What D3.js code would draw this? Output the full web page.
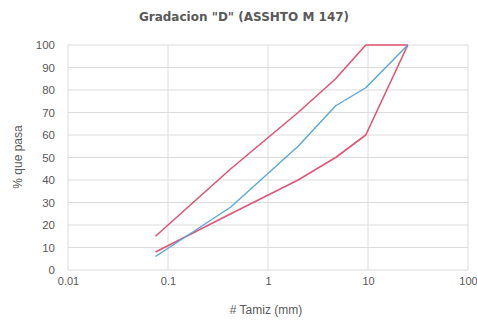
<!DOCTYPE html>
<html><head><meta charset="utf-8">
<script src="https://cdn.jsdelivr.net/npm/d3@7"></script>
<style>body{margin:0;background:#fff}svg{display:block}</style>
</head><body><svg id="c" width="477" height="327"></svg>
<script>
const sieves = [0.075, 0.425, 2, 4.75, 9.5, 25];
const upperLimit = [15, 45, 70, 85, 100, 100];
const lowerLimit = [8, 25, 40, 50, 60, 100];
const sample = [6, 28, 55, 73, 81, 100];
const xTicks = [0.01, 0.1, 1, 10, 100];
const yTicks = [0,10,20,30,40,50,60,70,80,90,100];

(function(){
const svg = d3.select("#c");
const pL = 68, pR = 468, pT = 45, pB = 270;
const x = d3.scaleLog().domain([0.01, 100]).range([pL, pR]);
const y = d3.scaleLinear().domain([0, 100]).range([pB, pT]);
const txt = "#595959";

svg.append("g").selectAll("line").data(yTicks).join("line")
  .attr("x1", pL).attr("x2", pR).attr("y1", d => y(d)).attr("y2", d => y(d))
  .attr("stroke", "#dcdcdc").attr("stroke-width", 1);
svg.append("g").selectAll("line").data(xTicks).join("line")
  .attr("x1", d => x(d)).attr("x2", d => x(d)).attr("y1", pT).attr("y2", pB)
  .attr("stroke", "#dcdcdc").attr("stroke-width", 1);

const yAxis = svg.append("g").attr("transform", `translate(${pL},0)`)
  .call(d3.axisLeft(y).tickValues(yTicks).tickSize(0).tickPadding(13));
yAxis.select(".domain").remove();
yAxis.selectAll("text").attr("fill", txt).style("font-family", "Liberation Sans, Arial, sans-serif").style("font-size", "11.5px");

const xAxis = svg.append("g").attr("transform", `translate(0,${pB})`)
  .call(d3.axisBottom(x).tickValues(xTicks).tickFormat(d => String(d)).tickSize(0).tickPadding(7));
xAxis.select(".domain").remove();
xAxis.selectAll("text").attr("fill", txt).style("font-family", "Liberation Sans, Arial, sans-serif").style("font-size", "11px");

const line = d3.line().x(d => x(d[0])).y(d => y(d[1]));
const series = [
  {vals: upperLimit, color: "#e05576", w: 1.6},
  {vals: lowerLimit, color: "#e05576", w: 1.6},
  {vals: sample, color: "#5aa6d6", w: 1.4}
];
series.forEach(s => {
  svg.append("path").datum(sieves.map((v, i) => [v, s.vals[i]]))
    .attr("d", line).attr("fill", "none").attr("stroke", s.color)
    .attr("stroke-width", s.w).attr("stroke-linejoin", "round");
});

svg.append("text").attr("x", 244).attr("y", 21).attr("text-anchor", "middle")
  .attr("fill", txt).style("font-family", "DejaVu Sans, sans-serif").style("font-weight", "bold").style("font-size", "12px")
  .text('Gradacion "D" (ASSHTO M 147)');
svg.append("text").attr("transform", "translate(22,157) rotate(-90)").attr("text-anchor", "middle")
  .attr("fill", txt).style("font-family", "Liberation Sans, Arial, sans-serif").style("font-size", "12px")
  .text("% que pasa");
svg.append("text").attr("x", 266).attr("y", 314).attr("text-anchor", "middle")
  .attr("fill", txt).style("font-family", "Liberation Sans, Arial, sans-serif").style("font-size", "12px")
  .text("# Tamiz (mm)");
})();
</script></body></html>
